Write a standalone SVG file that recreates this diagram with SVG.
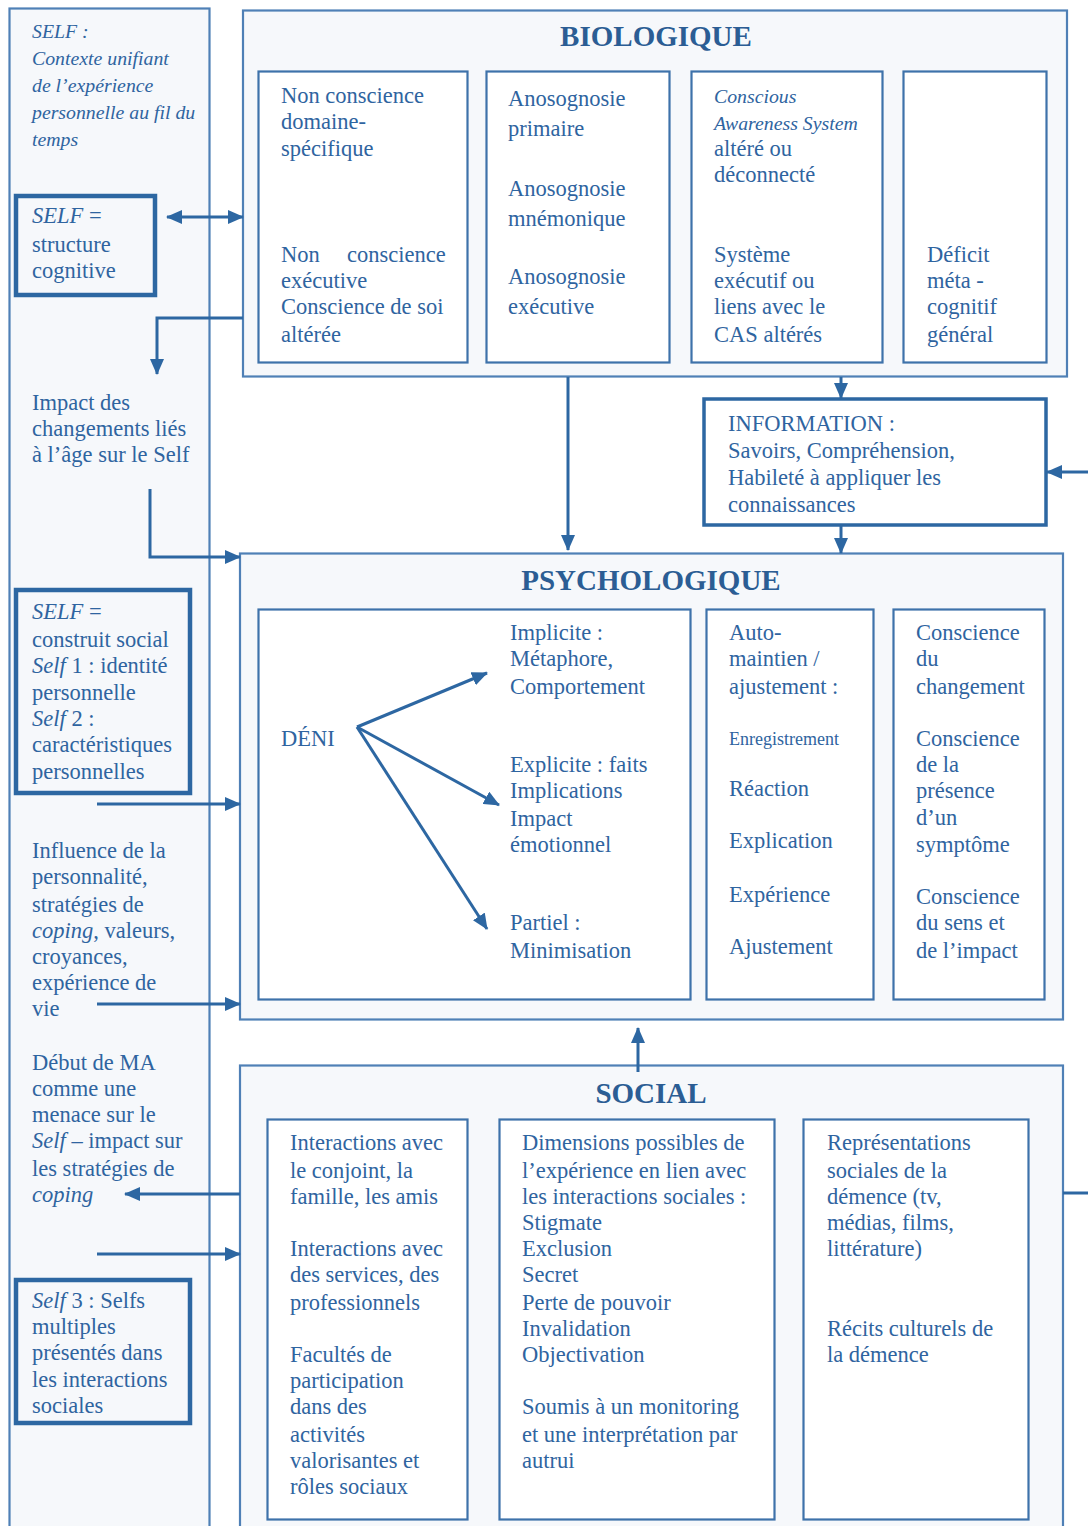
<svg xmlns="http://www.w3.org/2000/svg" width="1088" height="1526" viewBox="0 0 1088 1526">
<style>
.t{font-family:"Liberation Serif","Times New Roman",serif;font-size:22.5px;fill:#2f64a0}
.ts{font-size:18px}
.i{font-style:italic}
.ti{font-family:"Liberation Serif","Times New Roman",serif;font-size:19.8px;fill:#2f64a0;font-style:italic}
.h{font-family:"Liberation Serif","Times New Roman",serif;font-size:29px;font-weight:bold;fill:#2b5d94;text-anchor:middle}
.outer{fill:#f6f8fb;stroke:#4f80b6;stroke-width:2.2}
.inner{fill:#ffffff;stroke:#3e72aa;stroke-width:2.2}
.thick{fill:#f6f8fb;stroke:#2d67a2;stroke-width:4.5}
.info{fill:#ffffff;stroke:#2d67a2;stroke-width:3.5}
.c{fill:none;stroke:#2d67a2;stroke-width:3}
</style>
<defs>
<marker id="ah" markerUnits="userSpaceOnUse" markerWidth="16" markerHeight="14" refX="15" refY="7" orient="auto-start-reverse">
<path d="M0,0 L16,7 L0,14 z" fill="#2d67a2"/>
</marker>
</defs>
<rect width="1088" height="1526" fill="#ffffff"/>

<g id="self-column">
<rect class="outer" x="9.5" y="8.5" width="200" height="1540"/>
<text class="ti" x="32" y="38">SELF :</text>
<text class="ti" x="32" y="65">Contexte unifiant</text>
<text class="ti" x="32" y="92">de l’expérience</text>
<text class="ti" x="32" y="119">personnelle au fil du</text>
<text class="ti" x="32" y="146">temps</text>
</g>

<g id="self-structure">
<rect class="thick" x="16" y="196" width="139" height="99"/>
<text class="t" x="32" y="223"><tspan class="i">SELF</tspan> =</text>
<text class="t" x="32" y="252">structure</text>
<text class="t" x="32" y="278">cognitive</text>
</g>

<g id="impact-age">
<text class="t" x="32" y="410">Impact des</text>
<text class="t" x="32" y="436">changements liés</text>
<text class="t" x="32" y="462">à l’âge sur le Self</text>
</g>

<g id="self-social">
<rect class="thick" x="16" y="590" width="174" height="203"/>
<text class="t" x="32" y="619"><tspan class="i">SELF</tspan> =</text>
<text class="t" x="32" y="647">construit social</text>
<text class="t" x="32" y="673"><tspan class="i">Self</tspan> 1 : identité</text>
<text class="t" x="32" y="700">personnelle</text>
<text class="t" x="32" y="726"><tspan class="i">Self</tspan> 2 :</text>
<text class="t" x="32" y="752">caractéristiques</text>
<text class="t" x="32" y="779">personnelles</text>
</g>

<g id="influence">
<text class="t" x="32" y="858">Influence de la</text>
<text class="t" x="32" y="884">personnalité,</text>
<text class="t" x="32" y="912">stratégies de</text>
<text class="t" x="32" y="938"><tspan class="i">coping</tspan>, valeurs,</text>
<text class="t" x="32" y="964">croyances,</text>
<text class="t" x="32" y="990">expérience de</text>
<text class="t" x="32" y="1016">vie</text>
</g>

<g id="debut-ma">
<text class="t" x="32" y="1070">Début de MA</text>
<text class="t" x="32" y="1096">comme une</text>
<text class="t" x="32" y="1122">menace sur le</text>
<text class="t" x="32" y="1148"><tspan class="i">Self</tspan> – impact sur</text>
<text class="t" x="32" y="1176">les stratégies de</text>
<text class="t i" x="32" y="1202">coping</text>
</g>

<g id="self3">
<rect class="thick" x="16" y="1280" width="174" height="143"/>
<text class="t" x="32" y="1308"><tspan class="i">Self</tspan> 3 : Selfs</text>
<text class="t" x="32" y="1334">multiples</text>
<text class="t" x="32" y="1360">présentés dans</text>
<text class="t" x="32" y="1387">les interactions</text>
<text class="t" x="32" y="1413">sociales</text>
</g>

<g id="biologique">
<rect class="outer" x="243" y="10.5" width="824" height="366"/>
<text class="h" x="656" y="46">BIOLOGIQUE</text>
<rect class="inner" x="258.5" y="71.5" width="209" height="291"/>
<text class="t" x="281" y="103">Non conscience</text>
<text class="t" x="281" y="129">domaine-</text>
<text class="t" x="281" y="156">spécifique</text>
<text class="t" x="281" y="262">Non<tspan x="347">conscience</tspan></text>
<text class="t" x="281" y="288">exécutive</text>
<text class="t" x="281" y="314">Conscience de soi</text>
<text class="t" x="281" y="342">altérée</text>
<rect class="inner" x="486.5" y="71.5" width="183" height="291"/>
<text class="t" x="508" y="106">Anosognosie</text>
<text class="t" x="508" y="136">primaire</text>
<text class="t" x="508" y="196">Anosognosie</text>
<text class="t" x="508" y="226">mnémonique</text>
<text class="t" x="508" y="284">Anosognosie</text>
<text class="t" x="508" y="314">exécutive</text>
<rect class="inner" x="691.5" y="71.5" width="191" height="291"/>
<text class="ti" x="714" y="103">Conscious</text>
<text class="ti" x="714" y="130">Awareness System</text>
<text class="t" x="714" y="156">altéré ou</text>
<text class="t" x="714" y="182">déconnecté</text>
<text class="t" x="714" y="262">Système</text>
<text class="t" x="714" y="288">exécutif ou</text>
<text class="t" x="714" y="314">liens avec le</text>
<text class="t" x="714" y="342">CAS altérés</text>
<rect class="inner" x="903.5" y="71.5" width="143" height="291"/>
<text class="t" x="927" y="262">Déficit</text>
<text class="t" x="927" y="288">méta -</text>
<text class="t" x="927" y="314">cognitif</text>
<text class="t" x="927" y="342">général</text>
</g>

<g id="information">
<rect class="info" x="704" y="399" width="342" height="126"/>
<text class="t" x="728" y="431">INFORMATION :</text>
<text class="t" x="728" y="458">Savoirs, Compréhension,</text>
<text class="t" x="728" y="485">Habileté à appliquer les</text>
<text class="t" x="728" y="512">connaissances</text>
</g>

<g id="psychologique">
<rect class="outer" x="240" y="553.5" width="823" height="466"/>
<text class="h" x="651" y="590">PSYCHOLOGIQUE</text>
<rect class="inner" x="258.5" y="609.5" width="432" height="390"/>
<text class="t" x="281" y="746">DÉNI</text>
<text class="t" x="510" y="640">Implicite :</text>
<text class="t" x="510" y="666">Métaphore,</text>
<text class="t" x="510" y="694">Comportement</text>
<text class="t" x="510" y="772">Explicite : faits</text>
<text class="t" x="510" y="798">Implications</text>
<text class="t" x="510" y="826">Impact</text>
<text class="t" x="510" y="852">émotionnel</text>
<text class="t" x="510" y="930">Partiel :</text>
<text class="t" x="510" y="958">Minimisation</text>
<rect class="inner" x="706.5" y="609.5" width="167" height="390"/>
<text class="t" x="729" y="640">Auto-</text>
<text class="t" x="729" y="666">maintien /</text>
<text class="t" x="729" y="694">ajustement :</text>
<text class="t ts" x="729" y="745">Enregistrement</text>
<text class="t" x="729" y="796">Réaction</text>
<text class="t" x="729" y="848">Explication</text>
<text class="t" x="729" y="902">Expérience</text>
<text class="t" x="729" y="954">Ajustement</text>
<rect class="inner" x="893.5" y="609.5" width="151" height="390"/>
<text class="t" x="916" y="640">Conscience</text>
<text class="t" x="916" y="666">du</text>
<text class="t" x="916" y="694">changement</text>
<text class="t" x="916" y="746">Conscience</text>
<text class="t" x="916" y="772">de la</text>
<text class="t" x="916" y="798">présence</text>
<text class="t" x="916" y="825">d’un</text>
<text class="t" x="916" y="852">symptôme</text>
<text class="t" x="916" y="904">Conscience</text>
<text class="t" x="916" y="930">du sens et</text>
<text class="t" x="916" y="958">de l’impact</text>
</g>

<g id="social">
<rect class="outer" x="240" y="1065.5" width="823" height="480"/>
<text class="h" x="651" y="1103">SOCIAL</text>
<rect class="inner" x="267.5" y="1119.5" width="200" height="400"/>
<text class="t" x="290" y="1150">Interactions avec</text>
<text class="t" x="290" y="1178">le conjoint, la</text>
<text class="t" x="290" y="1204">famille, les amis</text>
<text class="t" x="290" y="1256">Interactions avec</text>
<text class="t" x="290" y="1282">des services, des</text>
<text class="t" x="290" y="1310">professionnels</text>
<text class="t" x="290" y="1362">Facultés de</text>
<text class="t" x="290" y="1388">participation</text>
<text class="t" x="290" y="1414">dans des</text>
<text class="t" x="290" y="1442">activités</text>
<text class="t" x="290" y="1468">valorisantes et</text>
<text class="t" x="290" y="1494">rôles sociaux</text>
<rect class="inner" x="499.5" y="1119.5" width="275" height="400"/>
<text class="t" x="522" y="1150">Dimensions possibles de</text>
<text class="t" x="522" y="1178">l’expérience en lien avec</text>
<text class="t" x="522" y="1204">les interactions sociales :</text>
<text class="t" x="522" y="1230">Stigmate</text>
<text class="t" x="522" y="1256">Exclusion</text>
<text class="t" x="522" y="1282">Secret</text>
<text class="t" x="522" y="1310">Perte de pouvoir</text>
<text class="t" x="522" y="1336">Invalidation</text>
<text class="t" x="522" y="1362">Objectivation</text>
<text class="t" x="522" y="1414">Soumis à un monitoring</text>
<text class="t" x="522" y="1442">et une interprétation par</text>
<text class="t" x="522" y="1468">autrui</text>
<rect class="inner" x="803.5" y="1119.5" width="225" height="400"/>
<text class="t" x="827" y="1150">Représentations</text>
<text class="t" x="827" y="1178">sociales de la</text>
<text class="t" x="827" y="1204">démence (tv,</text>
<text class="t" x="827" y="1230">médias, films,</text>
<text class="t" x="827" y="1256">littérature)</text>
<text class="t" x="827" y="1336">Récits culturels de</text>
<text class="t" x="827" y="1362">la démence</text>
</g>

<g id="connectors">
<path class="c" d="M167,217 H243" marker-start="url(#ah)" marker-end="url(#ah)"/>
<path class="c" d="M243,318 H157 V374" marker-end="url(#ah)"/>
<path class="c" d="M150,489 V557 H240" marker-end="url(#ah)"/>
<path class="c" d="M97,804 H240" marker-end="url(#ah)"/>
<path class="c" d="M97,1004 H240" marker-end="url(#ah)"/>
<path class="c" d="M240,1194 H125" marker-end="url(#ah)"/>
<path class="c" d="M97,1254 H240" marker-end="url(#ah)"/>
<path class="c" d="M568,377 V550" marker-end="url(#ah)"/>
<path class="c" d="M841,377 V398" marker-end="url(#ah)"/>
<path class="c" d="M841,526 V553" marker-end="url(#ah)"/>
<path class="c" d="M1088,472 H1047" marker-end="url(#ah)"/>
<path class="c" d="M1063,1193 H1088"/>
<path class="c" d="M638,1072 V1028" marker-end="url(#ah)"/>
<path class="c" d="M357,727 L487,673" marker-end="url(#ah)"/>
<path class="c" d="M357,727 L499,805" marker-end="url(#ah)"/>
<path class="c" d="M357,727 L487,929" marker-end="url(#ah)"/>
</g>
</svg>
